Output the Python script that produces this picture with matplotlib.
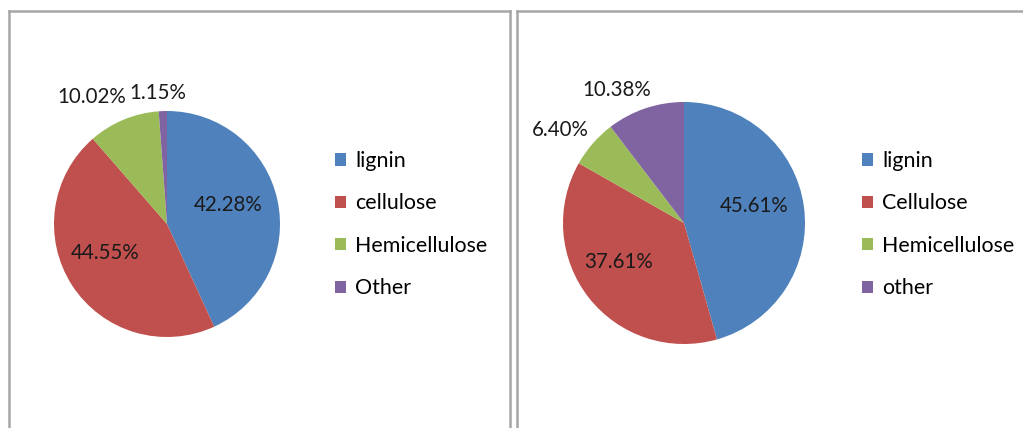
import matplotlib
matplotlib.use("Agg")
import matplotlib.pyplot as plt
from matplotlib.lines import Line2D
import numpy as np

plt.rcParams['font.family'] = ['Lato', 'DejaVu Sans']

# Data
labels_left = ["lignin", "cellulose", "Hemicellulose", "Other"]
values_left = [42.28, 44.55, 10.02, 1.15]
labels_right = ["lignin", "Cellulose", "Hemicellulose", "other"]
values_right = [45.61, 37.61, 6.40, 10.38]
colors = ["#4F81BD", "#C0504D", "#9BBB59", "#8064A2"]

W, H = 1023, 428
fig = plt.figure(figsize=(W / 100, H / 100), dpi=100)

FS_PCT = 14.8
FS_LEG = 15.4

def px_axes(cx, cy, r):
    return fig.add_axes([(cx - r) / W, (H - cy - r) / H, 2 * r / W, 2 * r / H])

def draw_pie(ax, values, label_dist, angle_off):
    wedges, _ = ax.pie(values, colors=colors, startangle=90, counterclock=False,
                       wedgeprops=dict(linewidth=0))
    for w, v, d, off in zip(wedges, values, label_dist, angle_off):
        mid = np.deg2rad((w.theta1 + w.theta2) / 2 + off)
        ax.text(d * np.cos(mid), d * np.sin(mid), f"{v:.2f}%",
                ha="center", va="center", fontsize=FS_PCT, color="#1a1a1a")
    ax.set_xlim(-1, 1)
    ax.set_ylim(-1, 1)
    ax.set_aspect("auto")
    return wedges

axL = px_axes(167, 224, 113)
wL = draw_pie(axL, values_left, [0.57, 0.60, 1.31, 1.16], [5, -8, 8, 2])

axR = px_axes(684, 223, 121)
wR = draw_pie(axR, values_right, [0.60, 0.63, 1.28, 1.23], [6, -7, 4, 8])

def add_legend(wedges, labels, x_px, ytop_px):
    fig.legend(wedges, labels, loc="upper left",
               bbox_to_anchor=(x_px / W, (H - ytop_px) / H),
               frameon=False, fontsize=FS_LEG, handlelength=0.5, handleheight=0.5,
               handletextpad=0.45, labelspacing=1.05, borderpad=0, borderaxespad=0)

add_legend(wL, labels_left, 335, 151)
add_legend(wR, labels_right, 862, 151)

# panel borders
bc = "#a6a6a6"
def fline(xs, ys):
    fig.add_artist(Line2D([x / W for x in xs], [(H - y) / H for y in ys],
                          color=bc, linewidth=1.8, transform=fig.transFigure))

fline([9, 9], [11, H + 5])
fline([9, 510], [11, 11])
fline([510, 510], [11, H + 5])
fline([517, 517], [11, H + 5])
fline([517, W + 5], [11, 11])

fig.savefig("out.png", dpi=100, facecolor="white")
